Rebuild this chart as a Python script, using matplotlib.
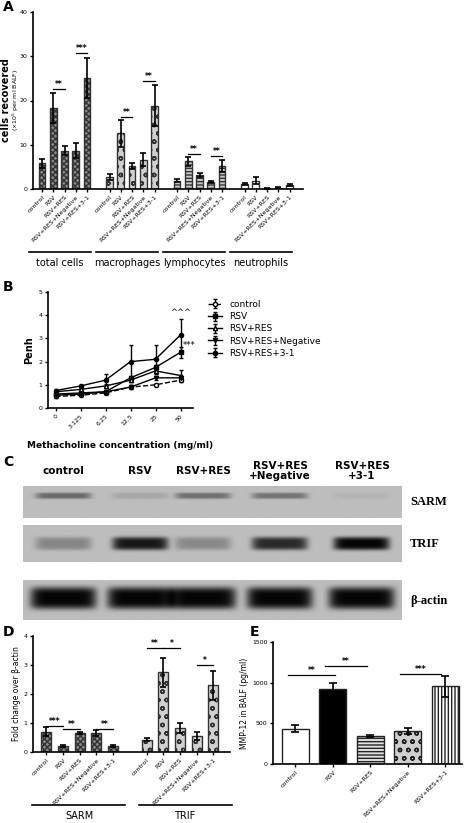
import numpy as np
import matplotlib
matplotlib.use("Agg")
import matplotlib.pyplot as plt

W, H = 472, 823
groups_a = ["control", "RSV", "RSV+RES", "RSV+RES+Negative", "RSV+RES+3-1"]

# panel A: cells recovered
cell_types = ["total cells", "macrophages", "lymphocytes", "neutrophils"]
a_mean = [[5.8, 18.3, 8.7, 8.7, 25.1],
          [2.8, 12.6, 5.2, 6.6, 18.8],
          [1.9, 6.3, 3.2, 1.6, 5.2],
          [1.1, 1.9, 0.2, 0.3, 0.9]]
a_err = [[1.0, 3.4, 1.0, 1.7, 4.6],
         [0.7, 3.0, 0.6, 1.5, 4.6],
         [0.4, 1.0, 0.5, 0.3, 1.4],
         [0.3, 0.8, 0.1, 0.1, 0.3]]
# (group, bar i, bar j, height, label)
a_sig = [(0, 1, 2, 22.5, "**"), (0, 3, 4, 30.8, "***"),
         (1, 1, 2, 16.3, "**"), (1, 3, 4, 24.5, "**"),
         (2, 1, 2, 7.9, "**"), (2, 3, 4, 7.4, "**")]

# panel B: Penh
doses = ["0", "3.125", "6.25", "12.5", "25", "50"]
penh = {
    "control": [0.5, 0.55, 0.65, 0.9, 1.0, 1.2],
    "RSV": [0.6, 0.65, 0.7, 1.3, 1.75, 2.4],
    "RSV+RES": [0.7, 0.8, 0.95, 1.2, 1.6, 1.4],
    "RSV+RES+Negative": [0.55, 0.6, 0.7, 0.9, 1.3, 1.3],
    "RSV+RES+3-1": [0.75, 0.95, 1.2, 2.0, 2.1, 3.15],
}
penh_err = {
    "control": [0.05, 0.05, 0.05, 0.05, 0.05, 0.08],
    "RSV": [0.05, 0.05, 0.05, 0.1, 0.12, 0.25],
    "RSV+RES": [0.05, 0.05, 0.08, 0.1, 0.1, 0.22],
    "RSV+RES+Negative": [0.05, 0.05, 0.05, 0.08, 0.1, 0.1],
    "RSV+RES+3-1": [0.05, 0.05, 0.25, 0.72, 0.62, 0.68],
}

# panel C: blot band intensities
blot_rows = ["SARM", "TRIF", "β-actin"]
blot_lanes = ["control", "RSV", "RSV+RES", "RSV+RES\n+Negative", "RSV+RES\n+3-1"]
band_int = [[0.45, 0.12, 0.42, 0.4, 0.05],
            [0.3, 0.9, 0.28, 0.8, 1.0],
            [1.0, 1.0, 1.0, 1.0, 1.0]]

# panel D: fold change
d_genes = ["SARM", "TRIF"]
d_mean = [[0.7, 0.2, 0.65, 0.65, 0.2], [0.43, 2.75, 0.82, 0.55, 2.3]]
d_err = [[0.15, 0.03, 0.03, 0.1, 0.03], [0.05, 0.5, 0.17, 0.15, 0.5]]
d_sig = [(0, 0, 1, 0.9, "***"), (0, 1, 2, 0.8, "**"), (0, 3, 4, 0.8, "**"),
         (1, 0, 1, 3.6, "**"), (1, 1, 2, 3.6, "*"), (1, 3, 4, 3.0, "*")]

# panel E: MMP-12
e_mean = [435, 920, 345, 405, 955]
e_err = [40, 70, 15, 40, 130]
e_sig = [(0, 1, 1100, "**"), (1, 2, 1200, "**"), (3, 4, 1110, "***")]

fig = plt.figure(figsize=(W / 100, H / 100), dpi=100)


def ax_px(l, t, r, b):
    return fig.add_axes([l / W, 1 - b / H, (r - l) / W, (b - t) / H])


def style(ax):
    for s in ["top", "right"]:
        ax.spines[s].set_visible(False)
    ax.spines["left"].set_linewidth(1.2)
    ax.spines["bottom"].set_linewidth(1.2)
    ax.tick_params(labelsize=4.5, width=1, length=2.5, pad=1.5)


def sig(ax, x1, x2, y, lab, fs=5.5):
    ax.plot([x1, x2], [y, y], color="k", lw=0.9)
    ax.text((x1 + x2) / 2, y, lab, ha="center", va="bottom", fontsize=fs, fontweight="bold")


def hline(x0, x1, y):
    fig.lines.append(plt.Line2D([x0 / W, x1 / W], [1 - y / H] * 2, color="k", lw=1.2,
                                transform=fig.transFigure))


# ---------------- A
ax = ax_px(33, 12, 303, 189)
style(ax)
hatches = ["xxxxxx", "oo", "-----", ""]
faces = ["#8a8a8a", "#d0d0d0", "#c8c8c8", "white"]
pos_a = []
for g in range(4):
    xs = g * 6 + np.arange(5)
    pos_a.append(xs)
    ax.bar(xs, a_mean[g], 0.6, yerr=a_err[g], color=faces[g], hatch=hatches[g],
           edgecolor="#333333", linewidth=1, capsize=2,
           error_kw=dict(elinewidth=1.2, capthick=1.2))
for g, i, j, y, lab in a_sig:
    sig(ax, pos_a[g][i], pos_a[g][j], y, lab)
ax.set_xlim(-0.8, 23.2)
ax.set_ylim(0, 40)
ax.set_yticks([0, 10, 20, 30, 40])
ax.set_xticks(np.concatenate(pos_a))
ax.set_xticklabels(groups_a * 4, rotation=45, ha="right", rotation_mode="anchor")
fig.text(6 / W, 1 - 100 / H, "cells recovered", rotation=90, fontsize=7, fontweight="bold",
         ha="center", va="center")
fig.text(16 / W, 1 - 100 / H, r"($\times10^5$ per ml BALF)", rotation=90, fontsize=4.5,
         ha="center", va="center")
for g, name in enumerate(cell_types):
    hline(29 + g * 67, 91 + g * 67, 252)
    fig.text((60 + g * 67) / W, 1 - 263 / H, name, ha="center", va="center", fontsize=7)
fig.text(3 / W, 1 - 7 / H, "A", fontsize=10, fontweight="bold", va="center")

# ---------------- B
ax = ax_px(48, 292, 193, 408)
style(ax)
markers = ["o", "s", "^", "v", "o"]
xb = np.arange(len(doses))
for k, (name, vals) in enumerate(penh.items()):
    mfc = "white" if k in (0, 2) else "k"
    ax.errorbar(xb, vals, yerr=penh_err[name], color="k", marker=markers[k], ms=3, mfc=mfc,
                mec="k", lw=1, ls="--" if k == 0 else "-", capsize=1.5, label=name)
ax.text(5, 4.0, "^^^", ha="center", fontsize=6)
ax.text(5.1, 2.6, "***", ha="left", fontsize=6)
ax.set_xlim(-0.3, 5.5)
ax.set_ylim(0, 5)
ax.set_xticks(xb)
ax.set_xticklabels(doses, rotation=45, ha="right", rotation_mode="anchor")
ax.set_ylabel("Penh", fontsize=7, fontweight="bold", labelpad=3)
ax.set_xlabel("Methacholine concentration (mg/ml)", fontsize=6.5, fontweight="bold", labelpad=8)
ax.legend(loc="upper left", bbox_to_anchor=(1.05, 1.0), frameon=False, fontsize=6.5,
          handlelength=1.5, labelspacing=0.35)
fig.text(3 / W, 1 - 287 / H, "B", fontsize=10, fontweight="bold", va="center")

# ---------------- C
fig.text(3 / W, 1 - 462 / H, "C", fontsize=10, fontweight="bold", va="center")
lane_x = [63, 140, 203, 280, 362]
row_box = [(486, 518), (525, 562), (580, 620)]
row_lab_y = [502, 544, 601]
for x, lab in zip(lane_x, blot_lanes):
    fig.text(x / W, 1 - 471 / H, lab, ha="center", va="center", fontsize=7.5,
             fontweight="bold", linespacing=1.1)
for r in range(3):
    t, b = row_box[r]
    axc = ax_px(23, t, 402, b)
    nx, ny = 380, 40
    xx = np.linspace(23, 402, nx)
    yy = np.linspace(0, 1, ny)
    img = np.full((ny, nx), 0.74)
    for x, inten in zip(lane_x, band_int[r]):
        hw = 33 if r == 2 else 28
        bx = np.exp(-((xx - x) / hw) ** 8)
        yc, sh = (0.45, 0.28) if r == 2 else ((0.3, 0.1) if r == 0 else (0.5, 0.18))
        by = np.exp(-((yy - yc) / sh) ** 4)
        img -= 0.72 * inten * np.outer(by, bx)
    axc.imshow(np.clip(img, 0, 1), cmap="gray", vmin=0, vmax=1, aspect="auto")
    axc.set_axis_off()
    fig.text(410 / W, 1 - row_lab_y[r] / H, blot_rows[r], fontsize=9, fontweight="bold",
             family="Liberation Serif", va="center")

# ---------------- D
ax = ax_px(33, 636, 230, 752)
style(ax)
pos_d = []
d_hatch = ["xxxxxx", "oo"]
d_face = ["#8a8a8a", "#d0d0d0"]
for g in range(2):
    xs = g * 6 + np.arange(5)
    pos_d.append(xs)
    ax.bar(xs, d_mean[g], 0.6, yerr=d_err[g], color=d_face[g], hatch=d_hatch[g],
           edgecolor="#333333", linewidth=1, capsize=2,
           error_kw=dict(elinewidth=1.2, capthick=1.2))
for g, i, j, y, lab in d_sig:
    sig(ax, pos_d[g][i], pos_d[g][j], y, lab)
ax.set_xlim(-0.8, 11)
ax.set_ylim(0, 4)
ax.set_yticks([0, 1, 2, 3, 4])
ax.set_xticks(np.concatenate(pos_d))
ax.set_xticklabels(groups_a * 2, rotation=45, ha="right", rotation_mode="anchor")
ax.set_ylabel("Fold change over β-actin", fontsize=5.5, labelpad=2)
for g, name in enumerate(d_genes):
    hline(32 + g * 107, 125 + g * 107, 805)
    fig.text((80 + g * 105) / W, 1 - 816 / H, name, ha="center", va="center", fontsize=7)
fig.text(3 / W, 1 - 632 / H, "D", fontsize=10, fontweight="bold", va="center")

# ---------------- E
ax = ax_px(273, 642, 462, 764)
style(ax)
e_face = ["white", "black", "#e0e0e0", "#cfcfcf", "white"]
e_hatch = ["", "", "-----", "oo", "|||||"]
xe = np.arange(5)
ax.bar(xe, e_mean, 0.72, yerr=e_err, color=e_face, hatch=e_hatch, edgecolor="#222222",
       linewidth=1, capsize=3, error_kw=dict(elinewidth=1.2, capthick=1.2))
for i, j, y, lab in e_sig:
    sig(ax, xe[i] - 0.2, xe[j] + 0.05 if j == 1 else xe[j] - 0.1, y, lab)
ax.set_xlim(-0.6, 4.45)
ax.set_ylim(0, 1500)
ax.set_yticks([0, 500, 1000, 1500])
ax.set_xticks(xe)
ax.set_xticklabels(groups_a, rotation=45, ha="right", rotation_mode="anchor")
ax.set_ylabel("MMP-12 in BALF (pg/ml)", fontsize=5.5, labelpad=2)
fig.text(250 / W, 1 - 632 / H, "E", fontsize=10, fontweight="bold", va="center")

fig.savefig("out.png", dpi=100)
